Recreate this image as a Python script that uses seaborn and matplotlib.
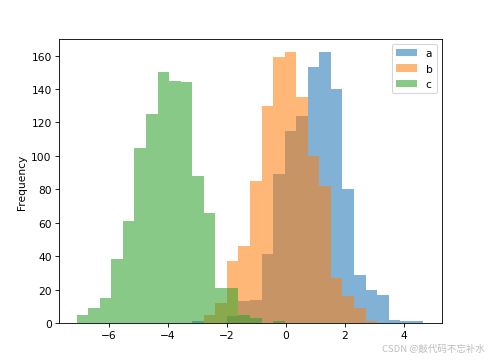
import numpy as np
import pandas as pd
import matplotlib
matplotlib.use("Agg")
import matplotlib.pyplot as plt
import seaborn as sns

# 30 shared bins
bin_lo, bin_hi, n_bins = -7.096, 4.655, 30
series_names = ["a", "b", "c"]
counts_a = [0, 0, 0, 0, 0, 0, 0, 0, 0, 0, 1, 0, 0, 4, 13, 14, 41, 89, 115, 124,
            153, 162, 140, 80, 29, 20, 17, 2, 1, 1]
counts_b = [0, 0, 0, 0, 0, 0, 0, 0, 0, 0, 0, 5, 12, 37, 46, 85, 130, 159, 162, 135,
            100, 82, 27, 16, 9, 1, 0, 0, 0, 0]
counts_c = [5, 9, 15, 38, 61, 105, 125, 150, 145, 144, 88, 66, 21, 21, 5, 3, 0, 1, 0, 0,
            0, 0, 0, 0, 0, 0, 0, 0, 0, 0]
colors = ["#1f77b4", "#ff7f0e", "#2ca02c"]

edges = np.linspace(bin_lo, bin_hi, n_bins + 1)
centers = (edges[:-1] + edges[1:]) / 2

fig = plt.figure(figsize=(6.4, 4.725), dpi=76.4)
ax = fig.add_axes([0.121, 0.1025, 0.783, 0.787])
for name, cnt, col in zip(series_names, [counts_a, counts_b, counts_c], colors):
    df = pd.DataFrame({"x": centers, "w": np.asarray(cnt, dtype=float)})
    sns.histplot(data=df, x="x", weights="w", bins=edges.tolist(), color=col,
                 alpha=0.56, linewidth=0, label=name, ax=ax)
ax.set_xlim(-7.69, 5.29)
ax.set_ylim(0, 170)
ax.set_ylabel("Frequency")
ax.set_xlabel("")
ax.legend(loc="upper right")
fig.text(0.992, 0.033, "CSDN @敲代码不忘补水", ha="right", va="center", fontsize=9,
         color="#bdbdbd", family=["Noto Sans CJK SC", "DejaVu Sans"])
fig.savefig("out.png", dpi=76.4)
